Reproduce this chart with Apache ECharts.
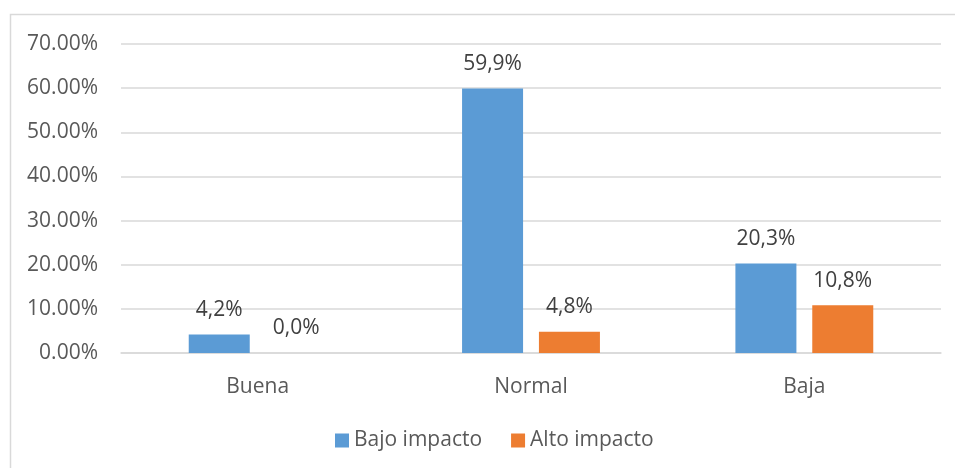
<!DOCTYPE html>
<html>
<head>
<meta charset="utf-8">
<script src="https://cdn.jsdelivr.net/npm/echarts@6/dist/echarts.min.js"></script>
<style>html,body{margin:0;padding:0;background:#fff}#c{width:955px;height:468px}</style>
</head>
<body>
<div id="c"></div>
<script>
const categories = ['Buena', 'Normal', 'Baja'];
const seriesNames = ['Bajo impacto', 'Alto impacto'];
const bajoImpacto = [4.2, 59.9, 20.3];
const altoImpacto = [0.0, 4.8, 10.8];
const yTicks = [0, 10, 20, 30, 40, 50, 60, 70];

const FONT = '"Open Sans", sans-serif';
const chart = echarts.init(document.getElementById('c'), null, {renderer: 'canvas'});
const lbl = {
  show: true, position: 'top', distance: 14,
  color: '#404040', fontFamily: FONT, fontSize: 21,
  formatter: p => p.value.toFixed(1).replace('.', ',') + '%'
};
chart.setOption({
  animation: false,
  backgroundColor: '#fff',
  color: ['#5B9BD5', '#ED7D31'],
  graphic: [{
    type: 'rect', silent: true,
    shape: {x: 10.5, y: 14.5, width: 1000, height: 500},
    style: {fill: 'none', stroke: '#d9d9d9', lineWidth: 1.5}
  }],
  grid: {left: 121, right: 14, top: 44, bottom: 115, containLabel: false},
  legend: {
    left: 330, top: 425,
    itemWidth: 14, itemHeight: 14, itemGap: 29,
    icon: 'rect',
    textStyle: {color: '#595959', fontFamily: FONT, fontSize: 21},
    data: seriesNames
  },
  xAxis: {
    type: 'category', data: categories,
    axisLine: {lineStyle: {color: '#d9d9d9', width: 1.5}},
    axisTick: {show: false},
    axisLabel: {color: '#595959', fontFamily: FONT, fontSize: 21, margin: 24}
  },
  yAxis: {
    type: 'value', min: yTicks[0], max: yTicks[yTicks.length - 1], interval: 10,
    axisLine: {show: false}, axisTick: {show: false},
    splitLine: {lineStyle: {color: '#d9d9d9', width: 1.5}},
    axisLabel: {color: '#595959', fontFamily: FONT, fontSize: 21, margin: 23,
      formatter: v => v.toFixed(2) + '%'}
  },
  series: [
    {name: seriesNames[0], type: 'bar', data: bajoImpacto, barWidth: 61, barGap: '26%', label: lbl},
    {name: seriesNames[1], type: 'bar', data: altoImpacto, barWidth: 61, barGap: '26%', label: lbl}
  ]
});
</script>
</body>
</html>
